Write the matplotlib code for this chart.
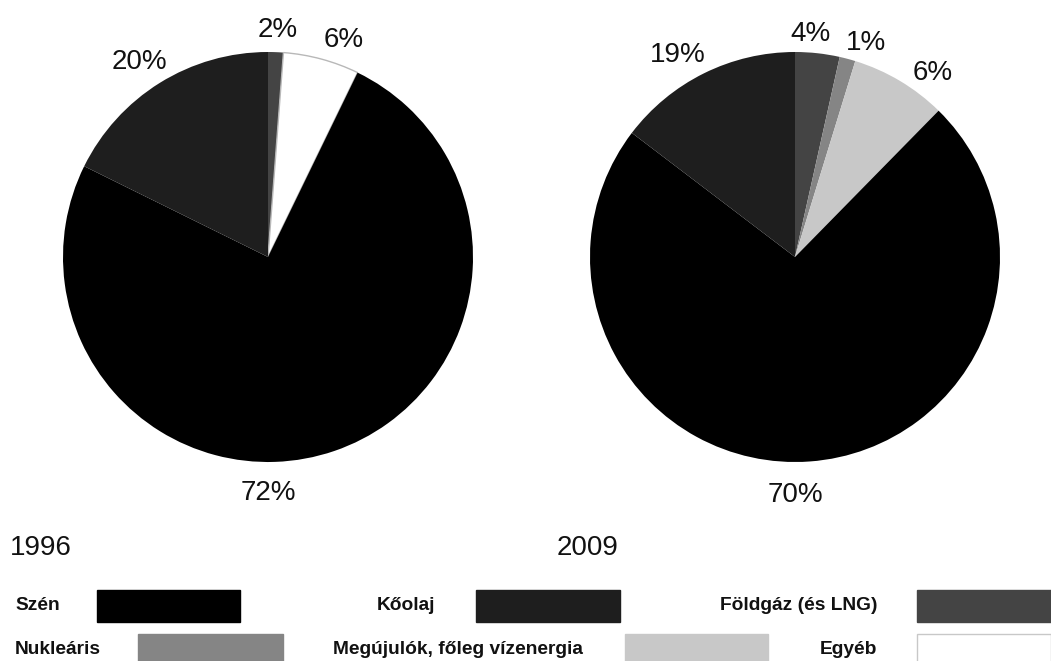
"""Energy mix pie charts, 1996 vs 2009, with a two-row legend underneath."""
import math
import matplotlib
matplotlib.use("Agg")
import matplotlib.pyplot as plt
from matplotlib.patches import Rectangle

plt.rcParams["font.family"] = ["Liberation Sans", "DejaVu Sans"]

# -- data: sources in drawing order (clockwise from 12 o'clock) --
sources = ["Földgáz (és LNG)", "Nukleáris", "Megújulók, főleg vízenergia",
           "Egyéb", "Szén", "Kőolaj"]
colors = ["#444444", "#858585", "#c8c8c8", "#ffffff", "#000000", "#1e1e1e"]

# wedge shares as drawn in the picture, and the printed labels
share_1996 = [1.2, 0.0, 0.0, 6.0, 75.1, 17.7]
share_2009 = [3.5, 1.25, 7.6, 0.0, 73.0, 14.65]
label_1996 = ["2%", "", "", "6%", "72%", "20%"]
label_2009 = ["4%", "1%", "6%", "", "70%", "19%"]
years = ["1996", "2009"]

# label placement: (angle clockwise from top in degrees, distance in radii)
label_pos_1996 = [(2.5, 1.11), None, None, (19.3, 1.12), (180, 1.15), (-33.5, 1.14)]
label_pos_2009 = [(4.1, 1.09), (18.4, 1.10), (36.9, 1.12), None, (180, 1.16), (-30, 1.14)]

# legend layout: (source index, text anchor x px, ha, patch x0 px, patch x1 px, row)
legend_rows = [
    (4, 15, "left", 97, 240, 0),
    (5, 435, "right", 476, 620, 0),
    (0, 877, "right", 917, 1051, 0),
    (1, 15, "left", 138, 283, 1),
    (2, 583, "right", 625, 768, 1),
    (3, 877, "right", 917, 1051, 1),
]

W, H = 1051, 661
R = 205
fig = plt.figure(figsize=(W / 100, H / 100), dpi=100)


def draw_pie(cx, cy, shares, labels, label_pos, year, year_x):
    ax = fig.add_axes([(cx - R) / W, 1 - (cy + R) / H, 2 * R / W, 2 * R / H])
    keep = [i for i, v in enumerate(shares) if v > 0]
    wedges, _ = ax.pie([shares[i] for i in keep], colors=[colors[i] for i in keep],
                       startangle=90, counterclock=False, radius=1,
                       wedgeprops=dict(linewidth=0))
    for w, i in zip(wedges, keep):
        if colors[i] == "#ffffff":
            w.set_edgecolor("#b8b8b8")
            w.set_linewidth(1.0)
    ax.set_xlim(-1, 1)
    ax.set_ylim(-1, 1)
    ax.set_aspect("equal")
    ax.axis("off")
    for i in keep:
        if not labels[i]:
            continue
        ang, dist = label_pos[i]
        a = math.radians(ang)
        ax.text(dist * math.sin(a), dist * math.cos(a), labels[i], ha="center",
                va="center", fontsize=20, color="#111111", clip_on=False)
    fig.text(year_x / W, 1 - 548 / H, year, ha="left", va="center",
             fontsize=20, color="#111111")


draw_pie(268, 257, share_1996, label_1996, label_pos_1996, years[0], 10)
draw_pie(795, 257, share_2009, label_2009, label_pos_2009, years[1], 557)

# -- legend built as figure-level text + swatches --
row_y = [605, 650]
row_h = [(590, 622), (634, 666)]
for ci, tx, ha, x0, x1, row in legend_rows:
    fig.text(tx / W, 1 - row_y[row] / H, sources[ci], ha=ha, va="center",
             fontsize=13.8, fontweight="bold", color="#111111")
    y0, y1 = row_h[row]
    edge = "#c8c8c8" if colors[ci] == "#ffffff" else colors[ci]
    fig.patches.append(Rectangle((x0 / W, 1 - y1 / H), (x1 - x0) / W, (y1 - y0) / H,
                                 transform=fig.transFigure, facecolor=colors[ci],
                                 edgecolor=edge, linewidth=1.0))

fig.savefig("out.png", dpi=100, facecolor="white")
